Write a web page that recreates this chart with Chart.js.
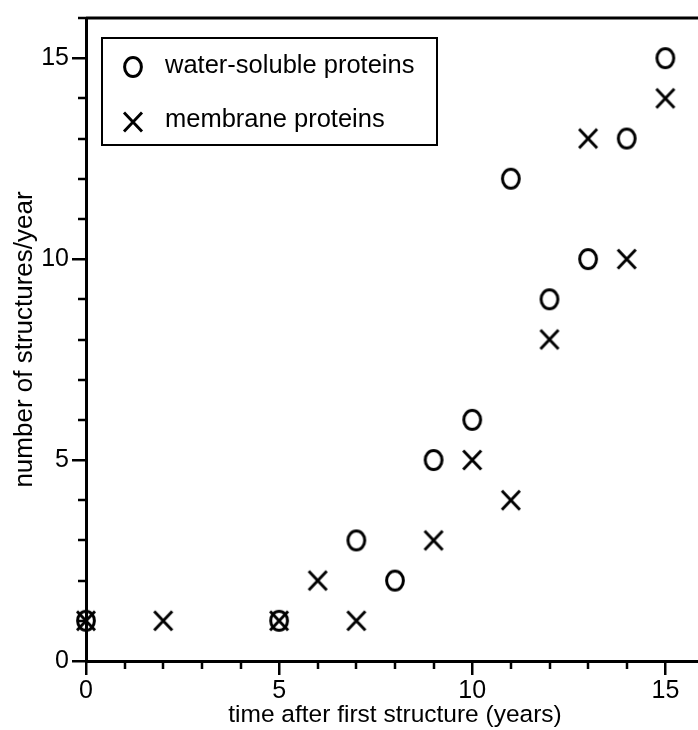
<!DOCTYPE html>
<html>
<head>
<meta charset="utf-8">
<script src="https://cdn.jsdelivr.net/npm/chart.js@4.4.1/dist/chart.umd.min.js"></script>
<style>
  html, body { margin: 0; padding: 0; background: #fff; overflow: hidden; }
  canvas { display: block; }
</style>
</head>
<body>
<canvas id="chart" width="712" height="730"></canvas>
<script>
const seriesLabels = ["water-soluble proteins", "membrane proteins"];

const solubleYears = [0, 5, 7, 8, 9, 10, 11, 12, 13, 14, 15];
const solubleCounts = [1, 1, 3, 2, 5, 6, 12, 9, 10, 13, 15];

const membraneYears = [0, 2, 5, 6, 7, 9, 10, 11, 12, 13, 14, 15];
const membraneCounts = [1, 1, 1, 2, 1, 3, 5, 4, 8, 13, 10, 14];

const xMax = 16;
const yMax = 16;

const FONT = "'Liberation Sans', Arial, Helvetica, sans-serif";

// marker glyphs, drawn once and used as point styles
function markO() {
  const c = document.createElement("canvas");
  c.width = 26;
  c.height = 26;
  const g = c.getContext("2d");
  g.strokeStyle = "#000";
  g.lineWidth = 3;
  g.beginPath();
  g.ellipse(13, 13, 8.4, 9.4, 0, 0, 2 * Math.PI);
  g.stroke();
  return c;
}

function markX() {
  const c = document.createElement("canvas");
  c.width = 24;
  c.height = 24;
  const g = c.getContext("2d");
  g.strokeStyle = "#000";
  g.lineWidth = 2.9;
  g.beginPath();
  g.moveTo(3, 2.5);
  g.lineTo(21, 21.5);
  g.moveTo(21, 2.5);
  g.lineTo(3, 21.5);
  g.stroke();
  return c;
}

const pts = (xs, ys) => xs.map((x, i) => ({ x: x, y: ys[i] }));

// minor ticks, top frame line and the boxed legend
const decorations = {
  id: "decorations",
  afterDraw(chart) {
    const ctx = chart.ctx;
    const area = chart.chartArea;
    const xs = chart.scales.x;
    const ys = chart.scales.y;
    ctx.save();
    ctx.strokeStyle = "#000";

    ctx.lineWidth = 2.5;
    ctx.beginPath();
    for (let v = 0; v <= xMax; v++) {
      if (v % 5 === 0) continue;
      const px = Math.round(xs.getPixelForValue(v));
      ctx.moveTo(px, area.bottom);
      ctx.lineTo(px, area.bottom + 8);
    }
    for (let v = 0; v <= yMax; v++) {
      if (v % 5 === 0) continue;
      const py = Math.round(ys.getPixelForValue(v));
      ctx.moveTo(area.left, py);
      ctx.lineTo(area.left - 8, py);
    }
    ctx.stroke();

    ctx.lineWidth = 3;
    ctx.beginPath();
    ctx.moveTo(area.left, area.top);
    ctx.lineTo(chart.width, area.top);
    ctx.stroke();

    // legend box
    ctx.lineWidth = 2;
    ctx.strokeRect(102, 38, 335, 107);
    const marks = [67, 122];
    const baselines = [73, 127];
    ctx.fillStyle = "#000";
    ctx.font = "25.5px " + FONT;
    ctx.textAlign = "left";
    ctx.textBaseline = "alphabetic";
    chart.data.datasets.forEach((ds, i) => {
      const img = ds.pointStyle;
      ctx.drawImage(img, 133 - img.width / 2, marks[i] - img.height / 2);
      ctx.fillText(ds.label, 165, baselines[i]);
    });
    ctx.restore();
  },
};

const data = {
  datasets: [
    {
      label: seriesLabels[0],
      data: pts(solubleYears, solubleCounts),
      pointStyle: markO(),
      showLine: false,
      clip: false,
    },
    {
      label: seriesLabels[1],
      data: pts(membraneYears, membraneCounts),
      pointStyle: markX(),
      showLine: false,
      clip: false,
    },
  ],
};

const config = {
  type: "scatter",
  data: data,
  plugins: [decorations],
  options: {
    responsive: false,
    animation: false,
    events: [],
    layout: {
      padding: { left: 0, top: 10, right: 8, bottom: 0 },
    },
    plugins: {
      legend: { display: false },
      tooltip: { enabled: false },
    },
    scales: {
      x: {
        type: "linear",
        min: 0,
        max: xMax,
        afterFit(scale) {
          scale.height = 69;
        },
        border: { display: true, color: "#000", width: 3 },
        grid: {
          drawOnChartArea: false,
          drawTicks: true,
          tickLength: 14,
          color: "#000",
          lineWidth: 2.5,
        },
        ticks: {
          stepSize: 5,
          includeBounds: false,
          color: "#000",
          padding: 1,
          maxRotation: 0,
          font: { family: FONT, size: 25 },
        },
        title: {
          display: true,
          text: "time after first structure (years)",
          color: "#000",
          padding: { top: 0, bottom: 0 },
          font: { family: FONT, size: 24.5 },
        },
      },
      y: {
        type: "linear",
        min: 0,
        max: yMax,
        afterFit(scale) {
          scale.width = 86;
        },
        border: { display: true, color: "#000", width: 3 },
        grid: {
          drawOnChartArea: false,
          drawTicks: true,
          tickLength: 14,
          color: "#000",
          lineWidth: 2.5,
        },
        ticks: {
          stepSize: 5,
          includeBounds: false,
          color: "#000",
          padding: 3,
          font: { family: FONT, size: 25 },
        },
        title: {
          display: true,
          text: "number of structures/year",
          color: "#000",
          padding: { top: 9, bottom: 0 },
          font: { family: FONT, size: 26 },
        },
      },
    },
  },
};

new Chart(document.getElementById("chart"), config);
</script>
</body>
</html>
